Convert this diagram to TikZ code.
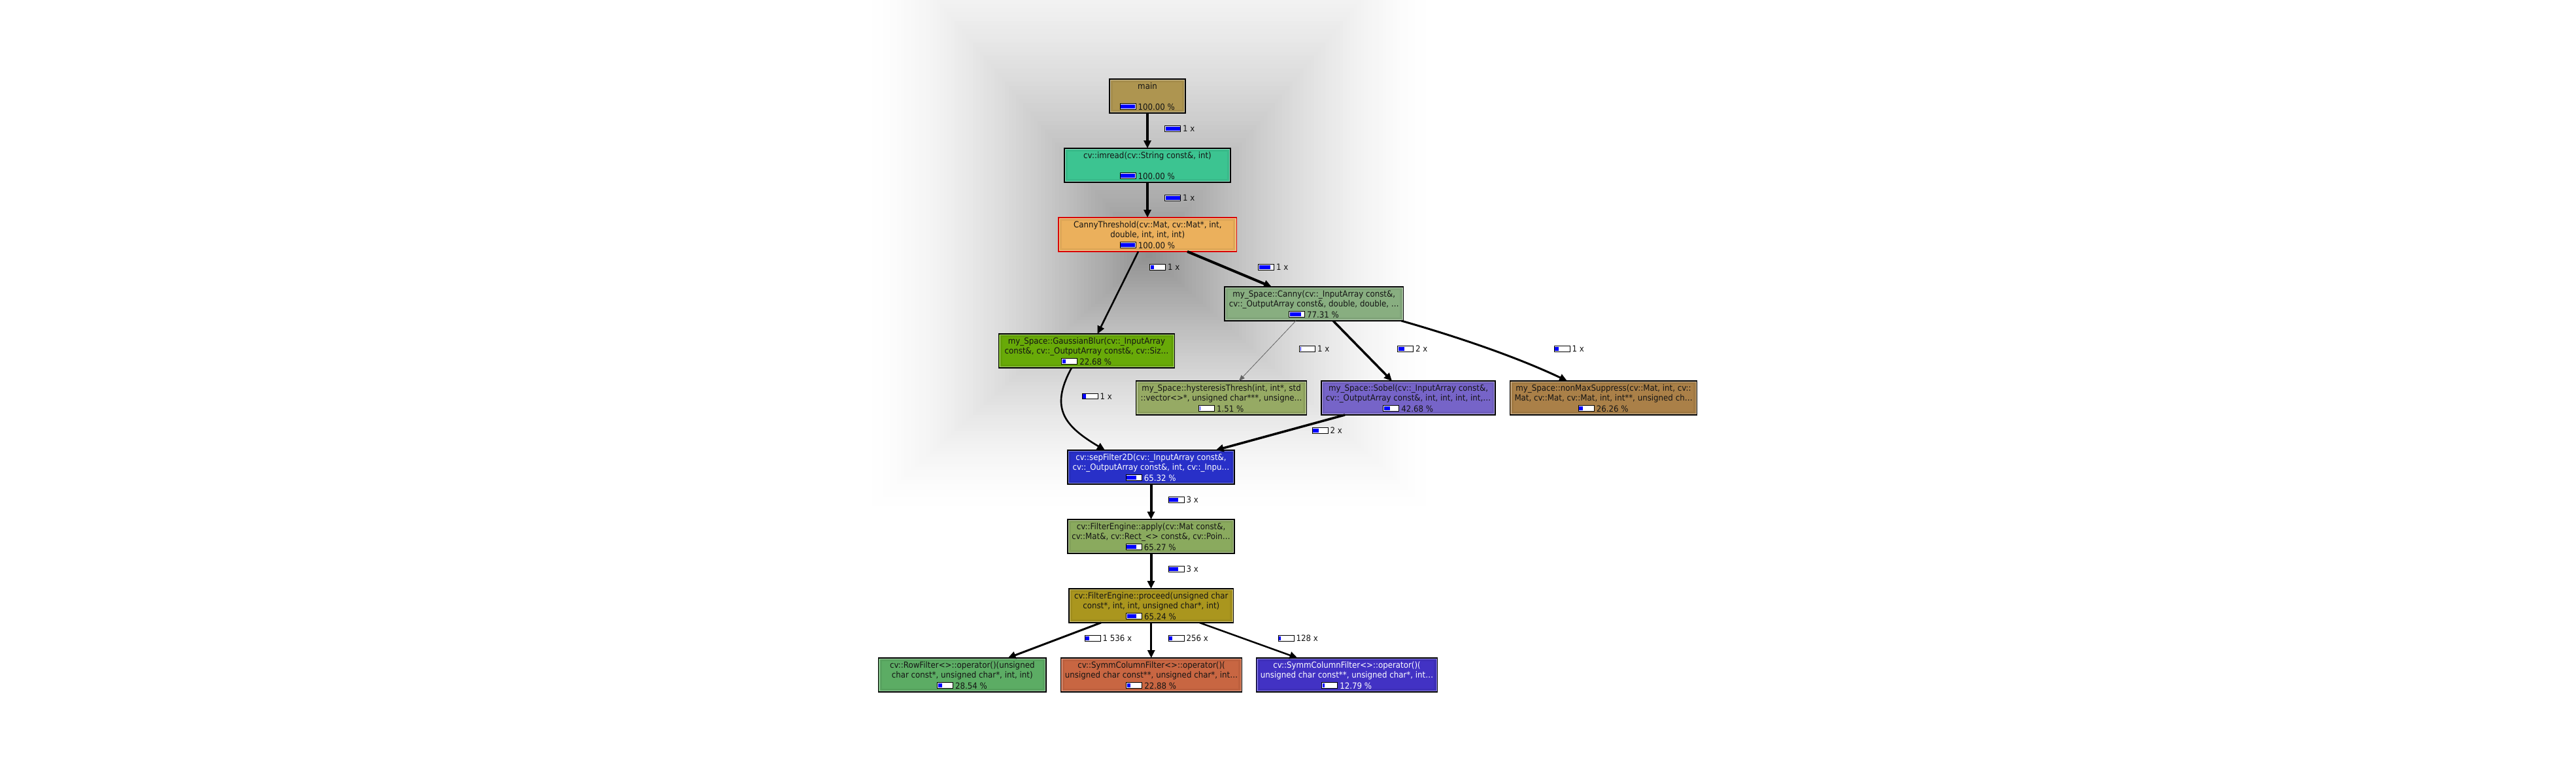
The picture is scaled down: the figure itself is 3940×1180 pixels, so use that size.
\documentclass[tikz,border=0pt]{standalone}
\usepackage{fontspec}
\setmainfont{DejaVu Sans}[FakeStretch=0.91]
\usetikzlibrary{arrows.meta,calc}
\definecolor{cMain}{RGB}{174,149,80}
\definecolor{cImread}{RGB}{60,196,145}
\definecolor{cCT}{RGB}{235,176,92}
\definecolor{cCanny}{RGB}{136,174,128}
\definecolor{cGauss}{RGB}{104,170,8}
\definecolor{cHyst}{RGB}{150,170,100}
\definecolor{cSobel}{RGB}{118,100,200}
\definecolor{cNMS}{RGB}{170,128,72}
\definecolor{cSep}{RGB}{40,48,200}
\definecolor{cApply}{RGB}{138,170,94}
\definecolor{cProceed}{RGB}{170,150,30}
\definecolor{cRow}{RGB}{92,172,100}
\definecolor{cSCa}{RGB}{200,102,66}
\definecolor{cSCb}{RGB}{66,50,196}
\definecolor{barblue}{RGB}{0,0,255}
\definecolor{txtdark}{RGB}{20,20,20}
\definecolor{thinedge}{RGB}{100,100,100}
\tikzset{
  fbox/.style={draw=black, line width=1.3pt, minimum height=52pt, inner sep=0pt, outer sep=0pt},
  ftext/.style={font=\fontsize{13}{15}\selectfont, inner sep=0pt, outer sep=0pt, anchor=base, text=txtdark},
  callarrow/.style={line width=#1, -{Triangle[length=12pt,width=11pt]}},
  thinarrow/.style={draw=thinedge, line width=0.8pt, -{Triangle[length=9pt,width=7pt]}},
}
% #1 name, #2 cx, #3 top, #4 width, #5 fill, #6 border colour
\newcommand\fnbox[6]{%
  \node[fbox, fill=#5, draw=#6, minimum width=#4pt] (#1) at (#2,#3+26) {};
  \draw[#5!88!black, line width=3pt, opacity=0.45] ($(#1.north west)+(3.6,3.6)$) rectangle ($(#1.south east)+(-3.6,-3.6)$);
  \draw[#5!55!white, line width=0.9pt] ($(#1.north west)+(1.5,1.5)$) rectangle ($(#1.south east)+(-1.5,-1.5)$);
  \draw[#6, line width=1.3pt] (#1.north west) rectangle (#1.south east);
}
% bar in front of a text node: #1 text node, #2 fraction
\newcommand\pbar[2]{%
  \begin{scope}[shift={(#1.base west)}]
    \fill[white] (-27.5,-9.3) rectangle (-3.5,-0.6);
    \fill[barblue] (-26.5,-8.3) rectangle ({-26.5+22*#2},-1.6);
    \draw[black, line width=1pt] (-27.5,-9.3) rectangle (-3.5,-0.6);
  \end{scope}}
% percent line: #1 name, #2 cx, #3 top, #4 text, #5 fraction, #6 text colour
\newcommand\fnpct[6]{%
  \node[ftext, text=#6] (#1) at (#2+13.75,#3+47) {#4};
  \pbar{#1}{#5}}
% edge label: #1 name, #2 bar left x, #3 centre y, #4 text, #5 fraction
\newcommand\elabel[5]{%
  \node[ftext, anchor=base west] (#1) at (#2+27.5,#3+4.8) {#4};
  \pbar{#1}{#5}}
\begin{document}
\begin{tikzpicture}[x=1pt,y=-1pt]
\useasboundingbox (0,0) rectangle (3940,1180);
\fill[white] (0,0) rectangle (3940,1180);
\begin{scope}
  \clip (0,0) rectangle (3940,1180);
  \foreach \i in {0,...,79}{
    \pgfmathsetmacro\s{1-\i/80}
    \pgfmathsetmacro\p{44*(1-\s)^1.6}
    \fill[black!\p] ({1757-440*\s},{390-530*\s}) rectangle ({1757+440*\s},{390+400*\s});
  }
\end{scope}

% nodes
\fnbox{main}{1755}{121}{116}{cMain}{black}
\node[ftext] (main-t1) at (1755,121+15.3) {main};
\fnpct{main-p}{1755}{121}{100.00 \%}{1}{txtdark}

\fnbox{imread}{1755}{227}{254}{cImread}{black}
\node[ftext] (imread-t1) at (1755,227+15.3) {cv::imread(cv::String const\&, int)};
\fnpct{imread-p}{1755}{227}{100.00 \%}{1}{txtdark}

\fnbox{ct}{1755.25}{333}{272.5}{cCT}{red!85!black}
\node[ftext] (ct-t1) at (1755.25,333+15.3) {CannyThreshold(cv::Mat, cv::Mat*, int,};
\node[ftext] (ct-t2) at (1755.25,333+30.3) {double, int, int, int)};
\fnpct{ct-p}{1755.25}{333}{100.00 \%}{1}{txtdark}

\fnbox{canny}{2009.75}{439}{273.5}{cCanny}{black}
\node[ftext] (canny-t1) at (2009.75,439+15.3) {my\_Space::Canny(cv::\_InputArray const\&,};
\node[ftext] (canny-t2) at (2009.75,439+30.3) {cv::\_OutputArray const\&, double, double, …};
\fnpct{canny-p}{2009.75}{439}{77.31 \%}{0.7731}{txtdark}

\fnbox{gauss}{1662}{511}{269}{cGauss}{black}
\node[ftext] (gauss-t1) at (1662,511+15.3) {my\_Space::GaussianBlur(cv::\_InputArray};
\node[ftext] (gauss-t2) at (1662,511+30.3) {const\&, cv::\_OutputArray const\&, cv::Siz…};
\fnpct{gauss-p}{1662}{511}{22.68 \%}{0.2268}{txtdark}

\fnbox{hyst}{1868}{583}{261}{cHyst}{black}
\node[ftext] (hyst-t1) at (1868,583+15.3) {my\_Space::hysteresisThresh(int, int*, std};
\node[ftext] (hyst-t2) at (1868,583+30.3) {::vector<>*, unsigned char***, unsigne…};
\fnpct{hyst-p}{1868}{583}{1.51 \%}{0.0151}{txtdark}

\fnbox{sobel}{2154}{583}{266}{cSobel}{black}
\node[ftext] (sobel-t1) at (2154,583+15.3) {my\_Space::Sobel(cv::\_InputArray const\&,};
\node[ftext] (sobel-t2) at (2154,583+30.3) {cv::\_OutputArray const\&, int, int, int, int,…};
\fnpct{sobel-p}{2154}{583}{42.68 \%}{0.4268}{txtdark}

\fnbox{nms}{2452.5}{583}{286}{cNMS}{black}
\node[ftext] (nms-t1) at (2452.5,583+15.3) {my\_Space::nonMaxSuppress(cv::Mat, int, cv::};
\node[ftext] (nms-t2) at (2452.5,583+30.3) {Mat, cv::Mat, cv::Mat, int, int**, unsigned ch…};
\fnpct{nms-p}{2452.5}{583}{26.26 \%}{0.2626}{txtdark}

\fnbox{sep}{1760.5}{689}{255}{cSep}{black}
\node[ftext, text=white] (sep-t1) at (1760.5,689+15.3) {cv::sepFilter2D(cv::\_InputArray const\&,};
\node[ftext, text=white] (sep-t2) at (1760.5,689+30.3) {cv::\_OutputArray const\&, int, cv::\_Inpu…};
\fnpct{sep-p}{1760.5}{689}{65.32 \%}{0.6532}{white}

\fnbox{apply}{1760.5}{795}{255}{cApply}{black}
\node[ftext] (apply-t1) at (1760.5,795+15.3) {cv::FilterEngine::apply(cv::Mat const\&,};
\node[ftext] (apply-t2) at (1760.5,795+30.3) {cv::Mat\&, cv::Rect\_<> const\&, cv::Poin…};
\fnpct{apply-p}{1760.5}{795}{65.27 \%}{0.6527}{txtdark}

\fnbox{proceed}{1760.75}{901}{251.5}{cProceed}{black}
\node[ftext] (proceed-t1) at (1760.75,901+15.3) {cv::FilterEngine::proceed(unsigned char};
\node[ftext] (proceed-t2) at (1760.75,901+30.3) {const*, int, int, unsigned char*, int)};
\fnpct{proceed-p}{1760.75}{901}{65.24 \%}{0.6524}{txtdark}

\fnbox{row}{1471.75}{1007}{256.5}{cRow}{black}
\node[ftext] (row-t1) at (1471.75,1007+15.3) {cv::RowFilter<>::operator()(unsigned};
\node[ftext] (row-t2) at (1471.75,1007+30.3) {char const*, unsigned char*, int, int)};
\fnpct{row-p}{1471.75}{1007}{28.54 \%}{0.2854}{txtdark}

\fnbox{sca}{1761}{1007}{277}{cSCa}{black}
\node[ftext] (sca-t1) at (1761,1007+15.3) {cv::SymmColumnFilter<>::operator()(};
\node[ftext] (sca-t2) at (1761,1007+30.3) {unsigned char const**, unsigned char*, int…};
\fnpct{sca-p}{1761}{1007}{22.88 \%}{0.2288}{txtdark}

\fnbox{scb}{2060}{1007}{277}{cSCb}{black}
\node[ftext, text=white] (scb-t1) at (2060,1007+15.3) {cv::SymmColumnFilter<>::operator()(};
\node[ftext, text=white] (scb-t2) at (2060,1007+30.3) {unsigned char const**, unsigned char*, int…};
\fnpct{scb-p}{2060}{1007}{12.79 \%}{0.1279}{white}

% edges
\draw[callarrow=4.5pt] (main.south) -- (imread.north);
\draw[callarrow=4.5pt] (imread.south) -- (imread.south |- ct.north);
\draw[callarrow=2.6pt] ($(ct.south west)+(122,0)$) -- ($(gauss.north west)+(151,0)$);
\draw[callarrow=4pt] ($(ct.south west)+(197,0)$) -- ($(canny.north west)+(72,0)$);
\draw[thinarrow] ($(canny.south west)+(109,0)$) -- ($(hyst.north west)+(157.5,0)$);
\draw[callarrow=3.5pt] ($(canny.south west)+(166,0)$) -- ($(sobel.north west)+(108,0)$);
\draw[callarrow=3pt] ($(canny.south east)+(-3,0)$) .. controls (2224,514) and (2317,545) .. ($(nms.north west)+(87.5,0)$);
\draw[callarrow=2.6pt] ($(gauss.south west)+(111.5,0)$) .. controls (1605,625) and (1628,652) .. ($(sep.north west)+(57,0)$);
\draw[callarrow=3.5pt] ($(sobel.south west)+(36,0)$) -- ($(sep.north west)+(226.5,0)$);
\draw[callarrow=4pt] (sep.south) -- (apply.north);
\draw[callarrow=4pt] (apply.south) -- (apply.south |- proceed.north);
\draw[callarrow=3pt] ($(proceed.south west)+(49,0)$) -- ($(row.north west)+(198,0)$);
\draw[callarrow=3pt] (proceed.south) -- (proceed.south |- sca.north);
\draw[callarrow=2.5pt] ($(proceed.south west)+(199.7,0)$) -- ($(scb.north west)+(63,0)$);

% edge labels
\elabel{l1}{1781.5}{197}{1 x}{1}
\elabel{l2}{1781.5}{303}{1 x}{1}
\elabel{l3}{1758.5}{409}{1 x}{0.2268}
\elabel{l4}{1924.5}{409}{1 x}{0.7731}
\elabel{l5}{1987.5}{534}{1 x}{0.0151}
\elabel{l6}{2137.5}{534}{2 x}{0.4268}
\elabel{l7}{2377}{534}{1 x}{0.2626}
\elabel{l8}{1655}{606.5}{1 x}{0.2268}
\elabel{l9}{2007}{659}{2 x}{0.4268}
\elabel{l10}{1787}{765}{3 x}{0.6532}
\elabel{l11}{1787}{871}{3 x}{0.6527}
\elabel{l12}{1659}{977}{1 536 x}{0.2854}
\elabel{l13}{1787}{977}{256 x}{0.2288}
\elabel{l14}{1955}{977}{128 x}{0.1279}
\end{tikzpicture}
\end{document}
